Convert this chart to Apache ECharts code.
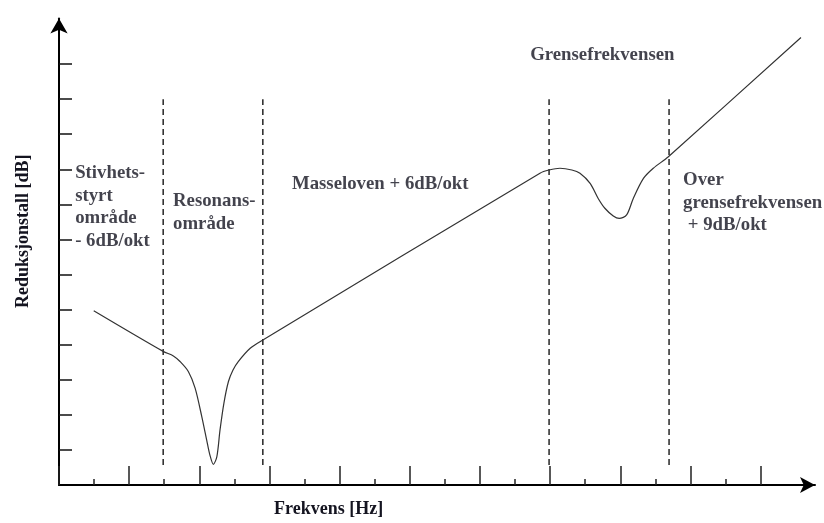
<!DOCTYPE html>
<html>
<head>
<meta charset="utf-8">
<script src="https://cdn.jsdelivr.net/npm/echarts@6/dist/echarts.min.js"></script>
<style>html,body{margin:0;padding:0;background:#fff}#c{width:824px;height:523px}</style>
</head>
<body>
<div id="c"></div>
<script>
// Curve: reduction index vs frequency (axis units, one unit per tick)
const curveX = [0.99, 2.97, 3.26, 3.45, 3.69, 3.88, 4.07, 4.21, 4.30, 4.40, 4.50, 4.59, 4.70, 4.83, 4.96, 5.11, 5.45, 5.80, 13.71, 13.97, 14.28, 14.62, 14.85, 15.14, 15.37, 15.56, 15.80, 15.97, 16.18, 16.37, 16.66, 16.94, 17.37, 21.15];
const curveY = [4.97, 3.81, 3.68, 3.52, 3.23, 2.76, 1.95, 1.28, 0.86, 0.59, 0.81, 1.57, 2.33, 2.95, 3.28, 3.52, 3.90, 4.13, 8.89, 8.98, 9.03, 8.98, 8.89, 8.60, 8.17, 7.89, 7.67, 7.60, 7.70, 8.17, 8.74, 9.03, 9.36, 12.76];
// Region boundaries (dashed verticals)
const boundaryX = [2.97, 5.81, 13.97, 17.39];
const boundaryYRange = [0.57, 11.0];
// Tick values
const xMajorTicks = [0, 2, 4, 6, 8, 10, 12, 14, 16, 18, 20];
const xMinorTicks = [1, 3, 5, 7, 9, 11, 13, 15, 17, 19];
const yTicks = [1, 2, 3, 4, 5, 6, 7, 8, 9, 10, 11, 12];
// Annotations: [x, y, text]
const annotations = [
  [0.46, 9.20, 'Stivhets-\nstyrt\nområde\n- 6dB/okt'],
  [3.25, 8.40, 'Resonans-\nområde'],
  [6.64, 8.89, 'Masseloven + 6dB/okt'],
  [13.43, 12.59, 'Grensefrekvensen'],
  [17.79, 9.00, 'Over\ngrensefrekvensen\n + 9dB/okt']
];
const xTitle = 'Frekvens [Hz]';
const yTitle = 'Reduksjonstall [dB]';

const X_MAX = 21.55, Y_MAX = 13.30;
const font = '"Liberation Serif", "Times New Roman", serif';
const textColor = '#141420';

const series = [];
series.push({
  type: 'line', xAxisIndex: 0, yAxisIndex: 0,
  data: curveX.map((x, i) => [x, curveY[i]]),
  showSymbol: false, smooth: 0.3,
  lineStyle: { color: '#333', width: 1.2 },
  silent: true, animation: false, z: 3
});
boundaryX.forEach(x => {
  series.push({
    type: 'line', xAxisIndex: 0, yAxisIndex: 0,
    data: [[x, boundaryYRange[0]], [x, boundaryYRange[1]]],
    showSymbol: false,
    lineStyle: { color: '#333', width: 1.6, type: [6, 4] },
    silent: true, animation: false, z: 2
  });
});
series.push({
  type: 'scatter', xAxisIndex: 0, yAxisIndex: 0,
  symbolSize: 0, clip: false, silent: true, animation: false,
  data: annotations.map(a => ({ value: [a[0], a[1]], label: { formatter: a[2] } })),
  label: {
    show: true, position: [0, 0], align: 'left', verticalAlign: 'top',
    fontFamily: font, fontWeight: 'bold', fontSize: 18.8, lineHeight: 22.5, color: textColor
  }
});

const option = {
  animation: false,
  backgroundColor: '#fff',
  grid: { left: 59, right: 9, top: 18.5, bottom: 38, containLabel: false },
  xAxis: [
    {
      type: 'value', min: 0, max: X_MAX, position: 'bottom',
      axisLine: { show: true, onZero: false, symbol: ['none', 'arrow'], symbolSize: [12, 15], lineStyle: { color: '#000', width: 2 } },
      axisTick: { show: true, inside: true, length: 19, customValues: xMajorTicks, lineStyle: { color: '#222', width: 1.5 } },
      axisLabel: { show: false }, splitLine: { show: false }
    },
    {
      type: 'value', min: 0, max: X_MAX, position: 'bottom',
      axisLine: { show: false, onZero: false },
      axisTick: { show: true, inside: true, length: 6, customValues: xMinorTicks, lineStyle: { color: '#222', width: 1.5 } },
      axisLabel: { show: false }, splitLine: { show: false }
    }
  ],
  yAxis: [{
    type: 'value', min: 0, max: Y_MAX,
    axisLine: { show: true, onZero: false, symbol: ['none', 'arrow'], symbolSize: [13, 15], lineStyle: { color: '#000', width: 2 } },
    axisTick: { show: true, inside: true, length: 13, customValues: yTicks, lineStyle: { color: '#111', width: 1.5 } },
    axisLabel: { show: false }, splitLine: { show: false }
  }],
  graphic: [
    { type: 'text', left: 274, top: 500, style: { text: xTitle, font: 'bold 18px ' + font, fill: textColor } },
    { type: 'text', x: 14, y: 308, rotation: Math.PI / 2, style: { text: yTitle, font: 'bold 18px ' + font, fill: textColor } }
  ],
  series: series
};
const chart = echarts.init(document.getElementById('c'), null, { renderer: 'canvas' });
chart.setOption(option);
</script>
</body>
</html>
